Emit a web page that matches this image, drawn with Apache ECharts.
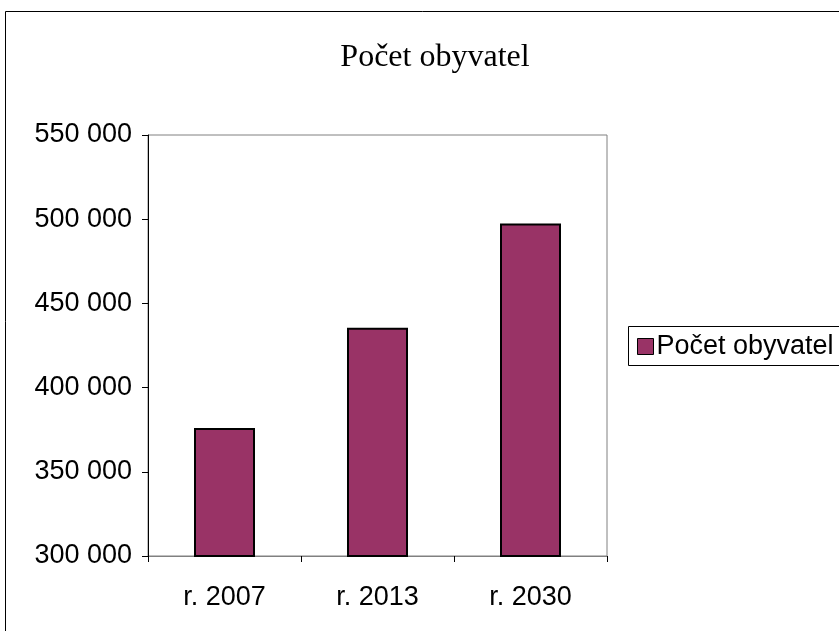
<!DOCTYPE html>
<html>
<head>
<meta charset="utf-8">
<title>Počet obyvatel</title>
<style type="text/css">
    *{
        margin:0;
        padding:0;
    }
    html,body{
        width:100%;
        height:100%;
        background:#fff;
    }
    #main{
        width:839px;
        height:631px;
    }
</style>
</head>
<body>
<div id="main"></div>
<script src="https://cdn.jsdelivr.net/npm/echarts@6/dist/echarts.min.js"></script>
<script type="text/javascript">
    // data
    var categories = ['r. 2007', 'r. 2013', 'r. 2030'];
    var population = [376000, 435500, 497500];
    var seriesName = 'Počet obyvatel';

    var myChart = echarts.init(document.getElementById('main'));

    // "550 000" style labels
    function fmt(v){
        return String(v).replace(/\B(?=(\d{3})+(?!\d))/g, ' ');
    }

    var option = {
        animation:false,
        backgroundColor:'#fff',
        title:{
            text:'Počet obyvatel',
            left:430,
            textAlign:'center',
            top:37,
            textStyle:{
                fontFamily:'Liberation Serif',
                fontSize:32,
                fontWeight:'normal',
                color:'#000'
            }
        },
        legend:{
            data:[seriesName],
            left:637,
            top:333,
            padding:0,
            icon:'rect',
            itemWidth:16,
            itemHeight:16,
            itemGap:4,
            itemStyle:{borderColor:'#000', borderWidth:1},
            textStyle:{
                fontFamily:'Liberation Sans',
                fontSize:27,
                color:'#000',
                padding:[0,0,0,-2]
            }
        },
        graphic:[
            {//outer frame, only top and left visible
                type:'rect',
                silent:true,
                shape:{x:5.5, y:11.5, width:900, height:700},
                style:{fill:'none', stroke:'#000', lineWidth:1}
            },
            {//legend frame
                type:'rect',
                silent:true,
                shape:{x:628.5, y:326.5, width:300, height:39},
                style:{fill:'none', stroke:'#000', lineWidth:1}
            }
        ],
        grid:{
            left:148,
            top:135,
            right:232,
            bottom:75,
            show:true,
            borderColor:'#808080',
            borderWidth:1
        },
        xAxis:{
            type:'category',
            data:categories,
            axisLine:{lineStyle:{color:'#808080', width:1}},
            axisTick:{show:true, alignWithLabel:false, length:6, lineStyle:{color:'#000'}},
            axisLabel:{
                fontFamily:'Liberation Sans',
                fontSize:27,
                color:'#000',
                margin:28
            }
        },
        yAxis:{
            type:'value',
            min:300000,
            max:550000,
            interval:50000,
            splitLine:{show:false},
            axisLine:{show:true, lineStyle:{color:'#000', width:1}},
            axisTick:{show:true, length:6, lineStyle:{color:'#000'}},
            axisLabel:{
                formatter:fmt,
                fontFamily:'Liberation Sans',
                fontSize:27,
                color:'#000',
                margin:16
            }
        },
        series:[
            {
                name:seriesName,
                type:'bar',
                data:population,
                barWidth:61,
                itemStyle:{
                    color:'#993366',
                    borderColor:'#000',
                    borderWidth:2
                }
            }
        ]
    };
    myChart.setOption(option);
</script>
</body>
</html>
